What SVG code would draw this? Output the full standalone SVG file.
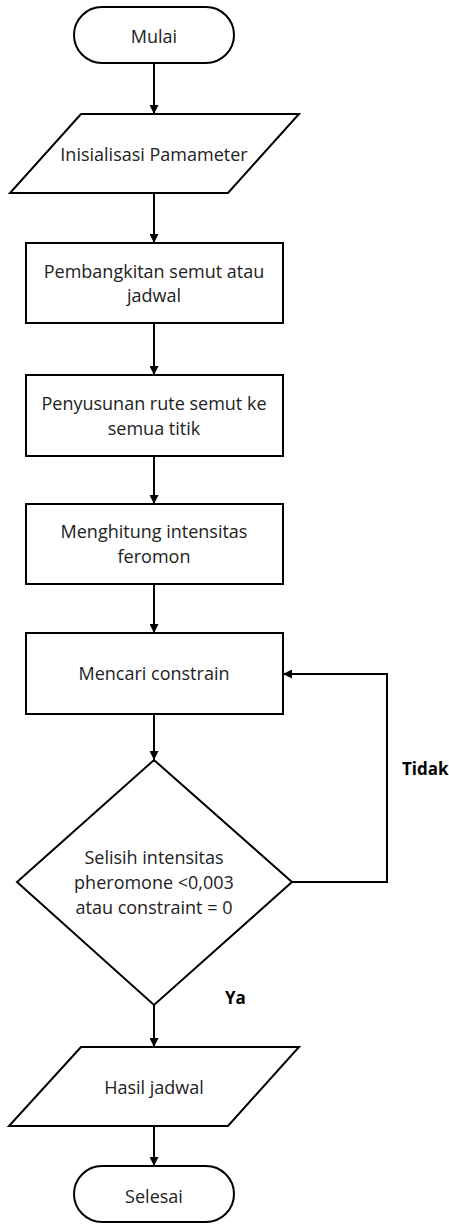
<svg xmlns="http://www.w3.org/2000/svg" width="449" height="1224" viewBox="0 0 449 1224">
  <style>
    .shape { fill: #ffffff; stroke: #000000; stroke-width: 2; }
    .conn { fill: none; stroke: #000000; stroke-width: 2; }
    .label { font-family: "Open Sans", "Liberation Sans", sans-serif; font-size: 18px; fill: #222222; text-anchor: middle; }
    .tag { font-family: "Open Sans", "Liberation Sans", sans-serif; font-size: 17px; font-weight: bold; fill: #000000; }
  </style>
  <defs>
    <marker id="arrow" viewBox="0 0 10 10" refX="10" refY="5" markerWidth="4.5" markerHeight="4.5" orient="auto" markerUnits="strokeWidth">
      <path d="M0,0 L10,5 L0,10 Z" fill="#000000"/>
    </marker>
  </defs>
  <rect width="449" height="1224" fill="#ffffff"/>

  <g id="connectors">
    <line class="conn" x1="154" y1="63" x2="154" y2="114" marker-end="url(#arrow)"/>
    <line class="conn" x1="154" y1="193" x2="154" y2="243" marker-end="url(#arrow)"/>
    <line class="conn" x1="154" y1="323" x2="154" y2="375" marker-end="url(#arrow)"/>
    <line class="conn" x1="154" y1="456" x2="154" y2="504" marker-end="url(#arrow)"/>
    <line class="conn" x1="154" y1="584" x2="154" y2="633" marker-end="url(#arrow)"/>
    <line class="conn" x1="154" y1="714" x2="154" y2="760" marker-end="url(#arrow)"/>
    <polyline class="conn" points="292,882 387,882 387,674 283,674" marker-end="url(#arrow)"/>
    <line class="conn" x1="154" y1="1005" x2="154" y2="1047" marker-end="url(#arrow)"/>
    <line class="conn" x1="154" y1="1126" x2="154" y2="1166" marker-end="url(#arrow)"/>
    <text class="tag" x="402" y="775">Tidak</text>
    <text class="tag" x="225" y="1004">Ya</text>
  </g>

  <g id="start">
    <rect class="shape" x="74" y="7" width="160" height="56" rx="28" ry="28"/>
    <text class="label" x="154" y="43">Mulai</text>
  </g>

  <g id="init-params">
    <polygon class="shape" points="81,114 299,114 228,193 10,193"/>
    <text class="label" x="154" y="161">Inisialisasi Pamameter</text>
  </g>

  <g id="generate-ants">
    <rect class="shape" x="26" y="243" width="257" height="80"/>
    <text class="label" x="154" y="278">Pembangkitan semut atau</text>
    <text class="label" x="154" y="302">jadwal</text>
  </g>

  <g id="build-routes">
    <rect class="shape" x="26" y="375" width="257" height="81"/>
    <text class="label" x="154" y="410">Penyusunan rute semut ke</text>
    <text class="label" x="154" y="435">semua titik</text>
  </g>

  <g id="pheromone-intensity">
    <rect class="shape" x="26" y="504" width="257" height="80"/>
    <text class="label" x="154" y="538">Menghitung intensitas</text>
    <text class="label" x="154" y="563">feromon</text>
  </g>

  <g id="find-constraint">
    <rect class="shape" x="26" y="633" width="257" height="81"/>
    <text class="label" x="154" y="680">Mencari constrain</text>
  </g>

  <g id="check-stop">
    <polygon class="shape" points="154,760 292,882 154,1005 17,882"/>
    <text class="label" x="154" y="864">Selisih intensitas</text>
    <text class="label" x="154" y="889">pheromone &lt;0,003</text>
    <text class="label" x="154" y="914">atau constraint = 0</text>
  </g>

  <g id="schedule-result">
    <polygon class="shape" points="81,1047 299,1047 228,1126 9,1126"/>
    <text class="label" x="154" y="1094">Hasil jadwal</text>
  </g>

  <g id="end">
    <rect class="shape" x="74" y="1166" width="160" height="56" rx="28" ry="28"/>
    <text class="label" x="154" y="1203">Selesai</text>
  </g>
</svg>
